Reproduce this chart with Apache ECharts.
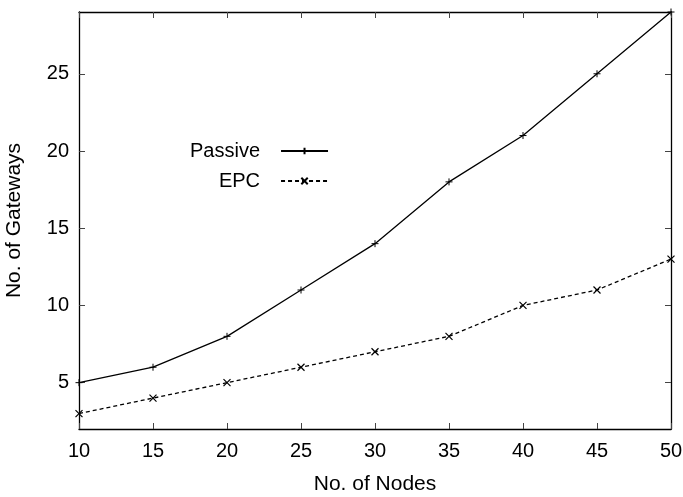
<!DOCTYPE html>
<html>
<head>
<meta charset="utf-8">
<script src="https://cdn.jsdelivr.net/npm/echarts@6/dist/echarts.min.js"></script>
<style>
  html, body { margin: 0; padding: 0; background: #fff; }
  #chart { width: 683px; height: 497px; }
</style>
</head>
<body>
<div id="chart"></div>
<script>
// gateways vs nodes
const nodes = [10, 15, 20, 25, 30, 35, 40, 45, 50];
const passive = [5, 6, 8, 11, 14, 18, 21, 25, 29];
const epc = [3, 4, 5, 6, 7, 8, 10, 11, 13];
const yTicks = [5, 10, 15, 20, 25];

const font = 'Liberation Sans, Arial, sans-serif';
const plus = 'path://M0,5 L10,5 M5,0 L5,10';
const cross = 'path://M0,0 L10,10 M0,10 L10,0';

const chart = echarts.init(document.getElementById('chart'));

const tick = { show: true, inside: true, length: 6, lineStyle: { color: '#444', width: 1 } };
const line = { show: true, lineStyle: { color: '#000', width: 1.3 } };

chart.setOption({
  animation: false,
  backgroundColor: '#fff',
  grid: { left: 79, right: 12, top: 12, bottom: 68, outerBoundsMode: 'none', containLabel: false },
  legend: {
    orient: 'vertical',
    left: 185,
    top: 136,
    align: 'right',
    itemWidth: 47,
    itemHeight: 8,
    itemGap: 10,
    textStyle: { fontFamily: font, fontSize: 20, color: '#000', padding: [0, 16, 0, 0] },
    data: ['Passive', 'EPC'],
  },
  xAxis: [
    {
      type: 'value', position: 'bottom', min: 10, max: 50, interval: 5,
      axisLine: line, axisTick: tick, splitLine: { show: false },
      axisLabel: { fontFamily: font, fontSize: 20, color: '#000', margin: 12 },
      name: 'No. of Nodes', nameLocation: 'middle', nameGap: 45,
      nameTextStyle: { fontFamily: font, fontSize: 21, color: '#000' },
    },
    {
      type: 'value', position: 'top', min: 10, max: 50, interval: 5,
      axisLine: line, axisTick: tick, axisLabel: { show: false }, splitLine: { show: false },
    },
  ],
  yAxis: [
    {
      type: 'value', position: 'left', min: 2, max: 29,
      axisLine: line, splitLine: { show: false },
      axisTick: Object.assign({ customValues: yTicks }, tick),
      axisLabel: { customValues: yTicks, fontFamily: font, fontSize: 20, color: '#000', margin: 10 },
      name: 'No. of Gateways', nameLocation: 'middle', nameGap: 54, nameRotate: 90,
      nameTextStyle: { fontFamily: font, fontSize: 21, color: '#000' },
    },
    {
      type: 'value', position: 'right', min: 2, max: 29,
      axisLine: line, splitLine: { show: false },
      axisTick: Object.assign({ customValues: yTicks }, tick),
      axisLabel: { show: false, customValues: yTicks },
    },
  ],
  series: [
    {
      name: 'Passive', type: 'line',
      data: nodes.map((n, i) => [n, passive[i]]),
      symbol: plus, symbolSize: 7,
      itemStyle: { color: '#000', borderColor: '#000', borderWidth: 1 },
      lineStyle: { color: '#000', width: 1.3 },
    },
    {
      name: 'EPC', type: 'line',
      data: nodes.map((n, i) => [n, epc[i]]),
      symbol: cross, symbolSize: 7,
      itemStyle: { color: '#000', borderColor: '#000', borderWidth: 1.2 },
      lineStyle: { color: '#000', width: 1.3, type: [4, 3] },
    },
  ],
});
</script>
</body>
</html>
